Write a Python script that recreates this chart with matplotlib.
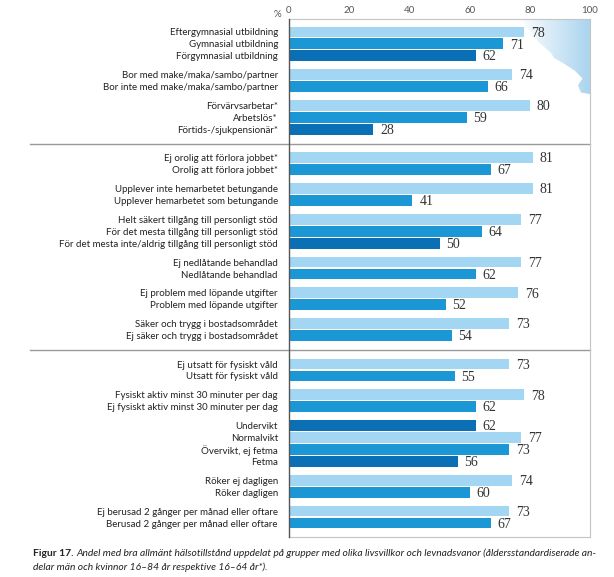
import matplotlib
matplotlib.use("Agg")
import matplotlib.pyplot as plt
import numpy as np
from matplotlib.patches import Polygon

# rows from top to bottom
labels = [
    "Eftergymnasial utbildning", "Gymnasial utbildning", "Förgymnasial utbildning",
    "Bor med make/maka/sambo/partner", "Bor inte med make/maka/sambo/partner",
    "Förvärvsarbetar*", "Arbetslös*", "Förtids-/sjukpensionär*",
    "Ej orolig att förlora jobbet*", "Orolig att förlora jobbet*",
    "Upplever inte hemarbetet betungande", "Upplever hemarbetet som betungande",
    "Helt säkert tillgång till personligt stöd", "För det mesta tillgång till personligt stöd",
    "För det mesta inte/aldrig tillgång till personligt stöd",
    "Ej nedlåtande behandlad", "Nedlåtande behandlad",
    "Ej problem med löpande utgifter", "Problem med löpande utgifter",
    "Säker och trygg i bostadsområdet", "Ej säker och trygg i bostadsområdet",
    "Ej utsatt för fysiskt våld", "Utsatt för fysiskt våld",
    "Fysiskt aktiv minst 30 minuter per dag", "Ej fysiskt aktiv minst 30 minuter per dag",
    "Undervikt", "Normalvikt", "Övervikt, ej fetma", "Fetma",
    "Röker ej dagligen", "Röker dagligen",
    "Ej berusad 2 gånger per månad eller oftare", "Berusad 2 gånger per månad eller oftare",
]
values = [78, 71, 62, 74, 66, 80, 59, 28,
          81, 67, 81, 41, 77, 64, 50, 77, 62, 76, 52, 73, 54,
          73, 55, 78, 62, 62, 77, 73, 56, 74, 60, 73, 67]
shade = [0, 1, 2, 0, 1, 0, 1, 2,
         0, 1, 0, 1, 0, 1, 2, 0, 1, 0, 1, 0, 1,
         0, 1, 0, 1, 2, 0, 1, 2, 0, 1, 0, 1]
group = [0, 0, 0, 1, 1, 2, 2, 2,
         3, 3, 4, 4, 5, 5, 5, 6, 6, 7, 7, 8, 8,
         9, 9, 10, 10, 11, 11, 11, 11, 12, 12, 13, 13]
section = [0] * 8 + [1] * 13 + [2] * 12
xticks = [0, 20, 40, 60, 80, 100]

caption_head = "Figur 17."
caption_1 = ("Andel med bra allmänt hälsotillstånd uppdelat på grupper med olika livsvillkor "
             "och levnadsvanor (åldersstandardiserade an-")
caption_2 = "delar män och kvinnor 16–84 år respektive 16–64 år*)."

colors = ["#a3d6f2", "#1b97d6", "#0b6fb6"]
grp_gap = 0.58
sec_gap = 1.38

# y positions from the grouping
ypos = []
y = 0.0
for i in range(len(labels)):
    if i > 0:
        if section[i] != section[i - 1]:
            y += 1 + sec_gap
        elif group[i] != group[i - 1]:
            y += 1 + grp_gap
        else:
            y += 1
    ypos.append(y)
ypos = np.array(ypos)

fig = plt.figure(figsize=(6.14, 5.77), dpi=100)
fig.canvas.draw()
renderer = fig.canvas.get_renderer()

font = dict(family=["Lato", "DejaVu Sans"])


def fit_size(text, target_px, **kw):
    # font size that makes text about target_px wide
    t = fig.text(0, 0, text, fontsize=10, **kw)
    w = t.get_window_extent(renderer).width
    t.remove()
    return 10 * target_px / w


label_size = fit_size("Eftergymnasial utbildning", 109, **font)
tick_size = label_size * 1.0
cap_size = fit_size(caption_head + " " + caption_1, 565, style="italic", **font)

ax = fig.add_axes([289 / 614, 1 - 537 / 577, 301 / 614, 518 / 577])

# gradient decoration in the upper right corner
grad = np.linspace(0, 1, 256).reshape(1, -1)
cmap = matplotlib.colors.LinearSegmentedColormap.from_list("g", ["#ffffff", "#a9d3ee"])
img = ax.imshow(grad, cmap=cmap, aspect="auto", extent=(0.76, 1.0, 0.85, 1.0),
                transform=ax.transAxes, zorder=0)
shape = Polygon([(0.775, 1.0), (0.785, 0.985), (0.815, 0.97), (0.83, 0.955), (0.85, 0.945),
                 (0.87, 0.935), (0.88, 0.925), (0.91, 0.915), (0.95, 0.9), (0.975, 0.885),
                 (0.96, 0.872), (0.97, 0.858), (1.0, 0.855), (1.0, 1.0)],
                closed=True, transform=ax.transAxes, facecolor="none", edgecolor="none")
ax.add_patch(shape)
img.set_clip_path(shape)

ax.barh(ypos, values, height=0.9, color=[colors[s] for s in shade], zorder=2)
for yy, v in zip(ypos, values):
    ax.text(v + 2.3, yy + 0.1, str(v), va="center", ha="left", fontsize=10,
            family="Liberation Serif", color="#333333")

ax.set_xlim(0, 100)
ax.set_ylim(ypos[-1] + 1.17, ypos[0] - 1.08)
ax.set_yticks(ypos)
ax.set_yticklabels(labels, fontsize=label_size, color="#222222", **font)
ax.tick_params(axis="y", length=0, pad=8)
ax.xaxis.tick_top()
ax.set_xticks(xticks)
ax.set_xticklabels([str(t) for t in xticks], fontsize=tick_size, color="#555555", **font)
ax.tick_params(axis="x", length=0, pad=3)
ax.text(-2.5, 1.0, "%", transform=ax.get_xaxis_transform(), ha="right", va="bottom",
        fontsize=tick_size, color="#555555", **font)

for side in ["top", "right", "bottom"]:
    ax.spines[side].set_color("#c4c4c4")
    ax.spines[side].set_linewidth(0.8)
ax.spines["left"].set_color("#555555")
ax.spines["left"].set_linewidth(1.0)
ax.spines["left"].set_zorder(3)

# separators between sections
for i in range(1, len(labels)):
    if section[i] != section[i - 1]:
        ysep = (ypos[i] + ypos[i - 1]) / 2
        ax.plot([-0.86, 1.0], [ysep, ysep], transform=ax.get_yaxis_transform(),
                clip_on=False, color="#9a9a9a", lw=1.0, zorder=1)

# caption
t1 = fig.text(33 / 614, 1 - 553 / 577, caption_head, fontsize=cap_size,
              fontweight="bold", va="center", ha="left", color="#222222", **font)
bb = t1.get_window_extent(renderer)
fig.text(bb.x1 / fig.bbox.width + 0.004, 1 - 553 / 577, caption_1,
         fontsize=cap_size, style="italic", va="center", ha="left", color="#222222", **font)
fig.text(33 / 614, 1 - 567 / 577, caption_2,
         fontsize=cap_size, style="italic", va="center", ha="left", color="#222222", **font)

fig.savefig("out.png", dpi=100)
